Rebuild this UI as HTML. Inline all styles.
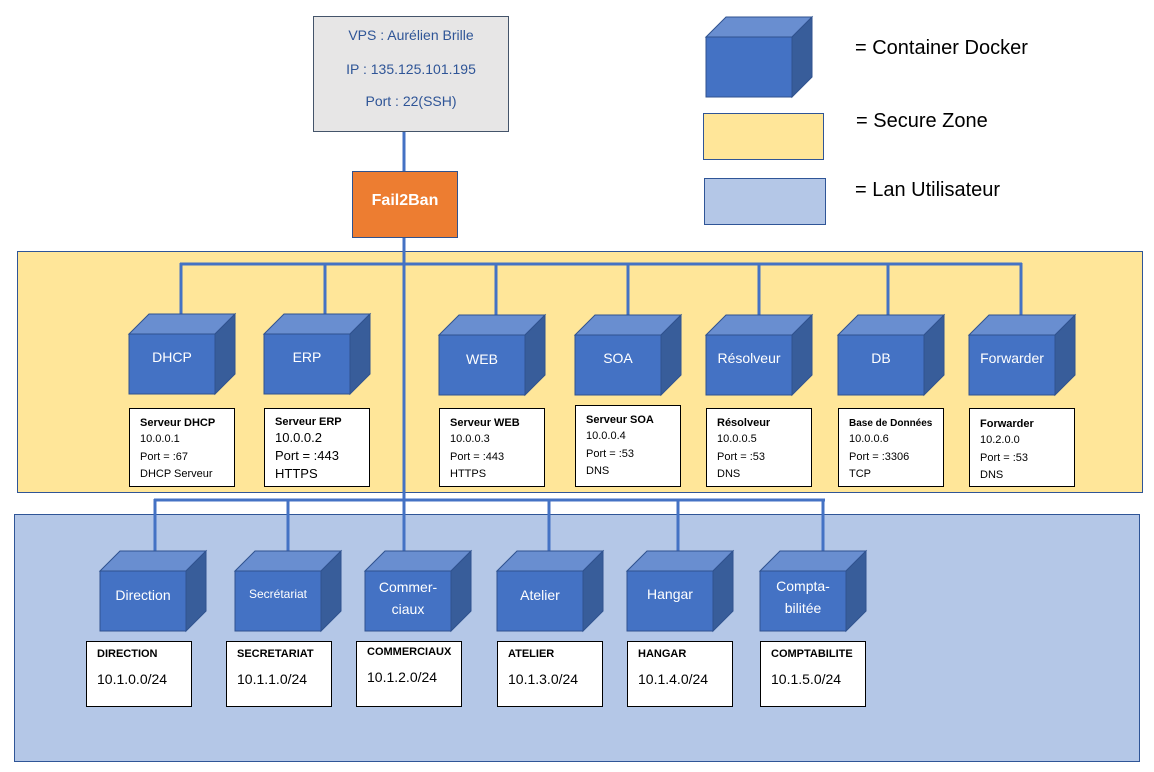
<!DOCTYPE html>
<html><head><meta charset="utf-8"><style>
html,body{margin:0;padding:0;background:#fff;}
svg{display:block;font-family:"Liberation Sans",sans-serif;}
</style></head><body>
<svg width="1154" height="772" viewBox="0 0 1154 772" xmlns="http://www.w3.org/2000/svg">
<defs>
<g id="cube">
<rect x="0" y="20" width="86" height="60" fill="#4472c4" stroke="#2f528f" stroke-width="1"/>
<polygon points="0,20 20,0 106,0 86,20" fill="#698ed0" stroke="#2f528f" stroke-width="1"/>
<polygon points="86,20 106,0 106,60 86,80" fill="#385d9a" stroke="#2f528f" stroke-width="1"/>
</g>
</defs>
<rect x="17.5" y="251.5" width="1125" height="241" fill="#ffe699" stroke="#2f5597"/>
<rect x="14.5" y="514.5" width="1125" height="247" fill="#b4c7e7" stroke="#2f5597"/>
<g stroke="#4472c4" stroke-width="3" fill="none">
<line x1="404" y1="131" x2="404" y2="514"/>
<line x1="180" y1="264" x2="1022" y2="264"/>
<line x1="181" y1="263" x2="181" y2="316"/>
<line x1="325" y1="263" x2="325" y2="316"/>
<line x1="496" y1="263" x2="496" y2="316"/>
<line x1="628" y1="263" x2="628" y2="316"/>
<line x1="759" y1="263" x2="759" y2="316"/>
<line x1="888" y1="263" x2="888" y2="316"/>
<line x1="1021" y1="263" x2="1021" y2="316"/>
<line x1="154" y1="500" x2="825" y2="500"/>
<line x1="155" y1="499" x2="155" y2="553"/>
<line x1="288" y1="499" x2="288" y2="553"/>
<line x1="404" y1="499" x2="404" y2="553"/>
<line x1="549" y1="499" x2="549" y2="553"/>
<line x1="678" y1="499" x2="678" y2="553"/>
<line x1="823" y1="499" x2="823" y2="553"/>
</g>
<rect x="313.5" y="16.5" width="195" height="115" fill="#e7e6e6" stroke="#44546a"/>
<g fill="#2f5597" font-size="14" text-anchor="middle">
<text x="411" y="40">VPS : Aurélien Brille</text>
<text x="411" y="74">IP : 135.125.101.195</text>
<text x="411" y="106">Port : 22(SSH)</text>
</g>
<rect x="352.5" y="171.5" width="105" height="66" fill="#ed7d31" stroke="#2f528f"/>
<text x="405" y="205" fill="#fff" font-size="16" font-weight="bold" text-anchor="middle">Fail2Ban</text>
<use href="#cube" x="706" y="17"/>
<text x="855" y="54" font-size="20" fill="#000">= Container Docker</text>
<rect x="703.5" y="113.5" width="120" height="46" fill="#ffe699" stroke="#2f5597"/>
<text x="856" y="127" font-size="20" fill="#000">= Secure Zone</text>
<rect x="704.5" y="178.5" width="121" height="46" fill="#b4c7e7" stroke="#2f5597"/>
<text x="855" y="196" font-size="20" fill="#000">= Lan Utilisateur</text>
<use href="#cube" x="129" y="314"/>
<use href="#cube" x="264" y="314"/>
<use href="#cube" x="439" y="315"/>
<use href="#cube" x="575" y="315"/>
<use href="#cube" x="706" y="315"/>
<use href="#cube" x="838" y="315"/>
<use href="#cube" x="969" y="315"/>
<g fill="#fff" font-size="14" text-anchor="middle">
<text x="172" y="362">DHCP</text>
<text x="307" y="362">ERP</text>
<text x="482" y="364">WEB</text>
<text x="618" y="363">SOA</text>
<text x="749" y="363">Résolveur</text>
<text x="881" y="363">DB</text>
<text x="1012" y="363">Forwarder</text>
</g>
<g fill="#fff" stroke="#000">
<rect x="129.5" y="408.5" width="105" height="78"/>
<rect x="264.5" y="408.5" width="105" height="78"/>
<rect x="439.5" y="408.5" width="105" height="78"/>
<rect x="575.5" y="405.5" width="105" height="81"/>
<rect x="706.5" y="408.5" width="105" height="78"/>
<rect x="838.5" y="408.5" width="105" height="78"/>
<rect x="969.5" y="408.5" width="105" height="78"/>
</g>
<g fill="#000" font-size="11">
<text x="140" y="426" font-weight="bold">Serveur DHCP</text>
<text x="140" y="442">10.0.0.1</text><text x="140" y="460">Port = :67</text><text x="140" y="477">DHCP Serveur</text>
<text x="275" y="425" font-weight="bold">Serveur ERP</text>
<text x="275" y="442" font-size="13">10.0.0.2</text><text x="275" y="460" font-size="13">Port = :443</text><text x="275" y="478" font-size="13">HTTPS</text>
<text x="450" y="426" font-weight="bold">Serveur  WEB</text>
<text x="450" y="442">10.0.0.3</text><text x="450" y="460">Port = :443</text><text x="450" y="477">HTTPS</text>
<text x="586" y="423" font-weight="bold">Serveur SOA</text>
<text x="586" y="439">10.0.0.4</text><text x="586" y="457">Port = :53</text><text x="586" y="474">DNS</text>
<text x="717" y="426" font-weight="bold">Résolveur</text>
<text x="717" y="442">10.0.0.5</text><text x="717" y="460">Port = :53</text><text x="717" y="477">DNS</text>
<text x="849" y="426" font-weight="bold" font-size="10">Base de Données</text>
<text x="849" y="442">10.0.0.6</text><text x="849" y="460">Port = :3306</text><text x="849" y="477">TCP</text>
<text x="980" y="427" font-weight="bold">Forwarder</text>
<text x="980" y="443">10.2.0.0</text><text x="980" y="461">Port = :53</text><text x="980" y="478">DNS</text>
</g>
<use href="#cube" x="100" y="551"/>
<use href="#cube" x="235" y="551"/>
<use href="#cube" x="365" y="551"/>
<use href="#cube" x="497" y="551"/>
<use href="#cube" x="627" y="551"/>
<use href="#cube" x="760" y="551"/>
<g fill="#fff" font-size="14" text-anchor="middle">
<text x="143" y="600">Direction</text>
<text x="278" y="598" font-size="12">Secrétariat</text>
<text x="408" y="592">Commer-</text><text x="408" y="614">ciaux</text>
<text x="540" y="600">Atelier</text>
<text x="670" y="599">Hangar</text>
<text x="803" y="591">Compta-</text><text x="803" y="613">bilitée</text>
</g>
<g fill="#fff" stroke="#000">
<rect x="86.5" y="641.5" width="105" height="65"/>
<rect x="226.5" y="641.5" width="105" height="65"/>
<rect x="356.5" y="641.5" width="105" height="65"/>
<rect x="497.5" y="641.5" width="105" height="65"/>
<rect x="627.5" y="641.5" width="105" height="65"/>
<rect x="760.5" y="641.5" width="105" height="65"/>
</g>
<g fill="#000" font-size="11" font-weight="bold">
<text x="97" y="657">DIRECTION</text>
<text x="237" y="657">SECRETARIAT</text>
<text x="367" y="655">COMMERCIAUX</text>
<text x="508" y="657">ATELIER</text>
<text x="638" y="657">HANGAR</text>
<text x="771" y="657">COMPTABILITE</text>
</g>
<g fill="#000" font-size="14">
<text x="97" y="684">10.1.0.0/24</text>
<text x="237" y="684">10.1.1.0/24</text>
<text x="367" y="682">10.1.2.0/24</text>
<text x="508" y="684">10.1.3.0/24</text>
<text x="638" y="684">10.1.4.0/24</text>
<text x="771" y="684">10.1.5.0/24</text>
</g>
</svg>
</body></html>
